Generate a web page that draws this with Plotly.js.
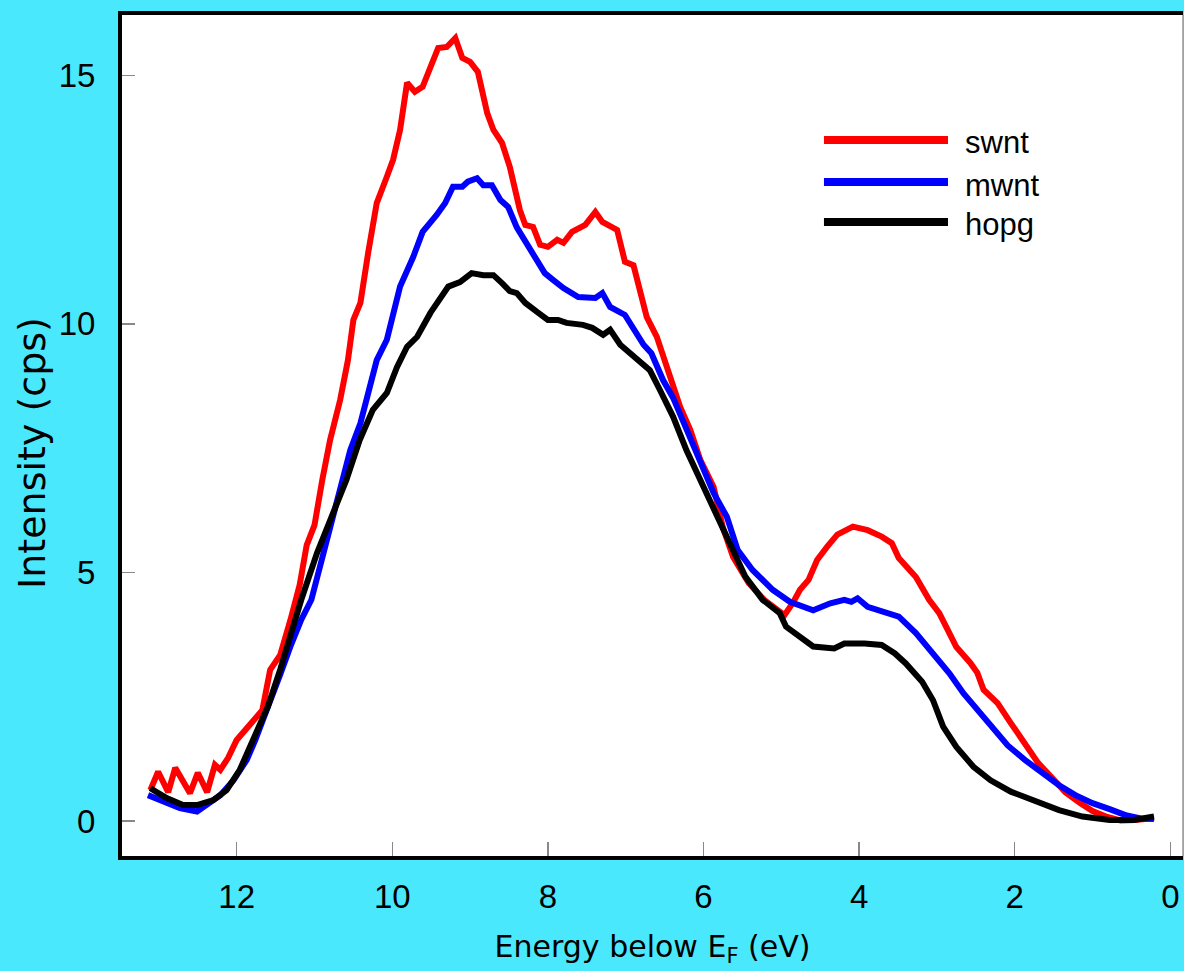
<!DOCTYPE html>
<html>
<head>
<meta charset="utf-8">
<script src="https://cdn.plot.ly/plotly-3.0.1.min.js"></script>
<style>
  html, body { margin: 0; padding: 0; background: #4ae8fd; }
  #chart { width: 1184px; height: 971px; }
</style>
</head>
<body>
<div id="chart"></div>
<script>
// ---- data ----
const seriesNames = ["swnt", "mwnt", "hopg"];
const seriesColors = ["#ff0000", "#0000ff", "#000000"];

const swntX = [13.11, 13.01, 12.88, 12.79, 12.60, 12.50, 12.38, 12.28, 12.21, 12.11, 12.00, 11.83, 11.67, 11.57, 11.44, 11.31, 11.19, 11.10, 11.00, 10.90, 10.80, 10.67, 10.57, 10.50, 10.41, 10.31, 10.20, 10.07, 9.99, 9.90, 9.81, 9.71, 9.61, 9.49, 9.41, 9.30, 9.19, 9.10, 9.00, 8.90, 8.78, 8.70, 8.59, 8.49, 8.36, 8.29, 8.19, 8.10, 8.00, 7.88, 7.80, 7.69, 7.52, 7.39, 7.30, 7.11, 7.01, 6.90, 6.73, 6.60, 6.47, 6.30, 6.17, 6.04, 5.87, 5.75, 5.62, 5.42, 5.22, 4.96, 4.85, 4.76, 4.65, 4.54, 4.41, 4.28, 4.08, 3.89, 3.71, 3.58, 3.49, 3.27, 3.10, 2.97, 2.84, 2.75, 2.57, 2.48, 2.40, 2.22, 2.05, 1.87, 1.70, 1.52, 1.35, 1.16, 1.00, 0.81, 0.64, 0.45, 0.30, 0.21];
const swntY = [0.62, 0.99, 0.58, 1.07, 0.56, 0.97, 0.58, 1.13, 1.03, 1.27, 1.63, 1.93, 2.23, 3.04, 3.34, 4.04, 4.75, 5.55, 5.95, 6.86, 7.66, 8.47, 9.27, 10.08, 10.42, 11.43, 12.43, 12.96, 13.30, 13.90, 14.85, 14.67, 14.77, 15.24, 15.55, 15.57, 15.75, 15.35, 15.27, 15.07, 14.24, 13.90, 13.64, 13.16, 12.29, 11.99, 11.95, 11.59, 11.55, 11.69, 11.63, 11.85, 11.99, 12.25, 12.05, 11.89, 11.25, 11.18, 10.14, 9.74, 9.13, 8.33, 7.87, 7.26, 6.72, 5.90, 5.31, 4.79, 4.45, 4.14, 4.39, 4.65, 4.85, 5.25, 5.52, 5.76, 5.92, 5.85, 5.72, 5.59, 5.29, 4.91, 4.45, 4.18, 3.78, 3.50, 3.18, 2.98, 2.64, 2.37, 1.97, 1.57, 1.17, 0.87, 0.58, 0.36, 0.20, 0.08, 0.01, 0.02, 0.04, 0.06];

const mwntX = [13.14, 12.90, 12.73, 12.51, 12.39, 12.21, 12.04, 11.87, 11.76, 11.60, 11.44, 11.30, 11.17, 11.04, 10.93, 10.80, 10.67, 10.54, 10.41, 10.31, 10.20, 10.07, 10.00, 9.90, 9.73, 9.61, 9.43, 9.32, 9.22, 9.10, 9.03, 8.91, 8.83, 8.72, 8.61, 8.51, 8.40, 8.23, 8.04, 7.93, 7.80, 7.61, 7.48, 7.39, 7.30, 7.20, 7.01, 6.90, 6.77, 6.67, 6.52, 6.39, 6.22, 6.04, 5.87, 5.70, 5.56, 5.37, 5.11, 4.89, 4.59, 4.37, 4.19, 4.10, 4.02, 3.89, 3.67, 3.49, 3.27, 3.05, 2.84, 2.66, 2.48, 2.27, 2.09, 1.87, 1.65, 1.43, 1.22, 1.00, 0.78, 0.56, 0.38, 0.21];
const mwntY = [0.52, 0.36, 0.26, 0.19, 0.32, 0.52, 0.82, 1.23, 1.63, 2.25, 2.95, 3.55, 4.05, 4.45, 5.11, 5.91, 6.72, 7.46, 8.00, 8.61, 9.27, 9.68, 10.14, 10.75, 11.35, 11.85, 12.19, 12.43, 12.76, 12.76, 12.86, 12.93, 12.79, 12.79, 12.49, 12.35, 11.94, 11.49, 11.02, 10.88, 10.72, 10.54, 10.54, 10.52, 10.62, 10.34, 10.18, 9.88, 9.58, 9.41, 8.87, 8.51, 7.87, 7.20, 6.60, 6.12, 5.45, 5.05, 4.65, 4.41, 4.24, 4.38, 4.45, 4.41, 4.48, 4.31, 4.21, 4.11, 3.78, 3.37, 2.97, 2.57, 2.23, 1.85, 1.52, 1.23, 0.96, 0.72, 0.52, 0.36, 0.24, 0.11, 0.05, 0.04];

const hopgX = [13.11, 12.90, 12.69, 12.51, 12.30, 12.13, 11.96, 11.79, 11.60, 11.44, 11.30, 11.17, 10.97, 10.76, 10.59, 10.42, 10.25, 10.07, 9.94, 9.81, 9.68, 9.51, 9.39, 9.28, 9.13, 8.98, 8.83, 8.70, 8.59, 8.49, 8.40, 8.29, 8.14, 8.00, 7.87, 7.76, 7.55, 7.43, 7.29, 7.20, 7.07, 6.90, 6.69, 6.56, 6.39, 6.22, 6.04, 5.87, 5.65, 5.46, 5.24, 5.02, 4.94, 4.76, 4.59, 4.32, 4.19, 3.93, 3.71, 3.54, 3.40, 3.19, 3.05, 2.92, 2.75, 2.53, 2.31, 2.05, 1.74, 1.43, 1.13, 0.78, 0.47, 0.21];
const hopgY = [0.66, 0.46, 0.32, 0.32, 0.42, 0.62, 1.03, 1.63, 2.30, 3.05, 3.80, 4.45, 5.38, 6.19, 6.86, 7.66, 8.27, 8.61, 9.13, 9.54, 9.74, 10.22, 10.48, 10.75, 10.84, 11.02, 10.98, 10.98, 10.82, 10.66, 10.62, 10.42, 10.24, 10.08, 10.08, 10.02, 9.98, 9.92, 9.78, 9.88, 9.58, 9.34, 9.07, 8.67, 8.13, 7.46, 6.86, 6.26, 5.59, 4.91, 4.45, 4.18, 3.91, 3.71, 3.51, 3.47, 3.57, 3.57, 3.54, 3.37, 3.17, 2.80, 2.43, 1.90, 1.49, 1.09, 0.82, 0.59, 0.39, 0.22, 0.09, 0.02, 0.02, 0.09];

const xTickVals = [12, 10, 8, 6, 4, 2, 0];
const xTickText = ["12", "10", "8", "6", "4", "2", "0"];
const yTickVals = [0, 5, 10, 15];
const yTickText = ["0", "5", "10", "15"];

const xTitle = "Energy below E<sub>F</sub> (eV)";
const yTitle = "Intensity (cps)";

// ---- build chart ----
const xs = [swntX, mwntX, hopgX];
const ys = [swntY, mwntY, hopgY];

const traces = seriesNames.map((n, i) => ({
  type: "scatter",
  mode: "lines",
  name: n,
  x: xs[i],
  y: ys[i],
  line: { color: seriesColors[i], width: 6 },
  showlegend: false,
  hoverinfo: "skip"
}));

// Custom legend (long line samples as in the reference)
const legX0 = 0.6616, legX1 = 0.7785, legTextX = 0.7926;
const legY = [0.8514, 0.8014, 0.7539];
const shapes = [];
const annotations = [];
seriesNames.forEach((n, i) => {
  shapes.push({
    type: "line", xref: "paper", yref: "paper",
    x0: legX0, x1: legX1, y0: legY[i], y1: legY[i],
    line: { color: seriesColors[i], width: 8 }
  });
  annotations.push({
    xref: "paper", yref: "paper", x: legTextX, y: legY[i],
    xanchor: "left", yanchor: "middle", yshift: -3,
    text: n, showarrow: false,
    font: { family: "Liberation Sans, Arial, sans-serif", size: 31, color: "#000" }
  });
});
// y-axis title, placed like the reference
annotations.push({
  xref: "paper", yref: "paper", x: -0.0848, y: 0.4792,
  xanchor: "center", yanchor: "middle", textangle: -90,
  text: yTitle, showarrow: false,
  font: { family: "DejaVu Sans, sans-serif", size: 38, color: "#000" }
});
// thin right frame line
shapes.push({
  type: "line", xref: "paper", yref: "paper",
  x0: 1, x1: 1, y0: 0, y1: 1,
  line: { color: "#999999", width: 1.5 }
});

const tickFont = { family: "Liberation Sans, Arial, sans-serif", size: 33, color: "#000" };

const layout = {
  width: 1184, height: 971,
  paper_bgcolor: "#4ae8fd",
  plot_bgcolor: "#ffffff",
  margin: { l: 122, r: 1, t: 15, b: 115, pad: 0 },
  showlegend: false,
  xaxis: {
    range: [13.474, -0.163],
    tickmode: "array", tickvals: xTickVals, ticktext: xTickText,
    ticks: "inside", ticklen: 14, tickwidth: 1.5, tickcolor: "#888",
    showline: true, linewidth: 4, linecolor: "#000", mirror: true,
    showgrid: false, zeroline: false,
    tickfont: tickFont, ticklabelstandoff: 8,
    automargin: false,
    title: { text: xTitle, standoff: 23,
      font: { family: "DejaVu Sans, sans-serif", size: 30, color: "#000" } }
  },
  yaxis: {
    range: [-0.704, 16.213],
    tickmode: "array", tickvals: yTickVals, ticktext: yTickText,
    ticks: "inside", ticklen: 13, tickwidth: 1.5, tickcolor: "#888",
    showline: true, linewidth: 4, linecolor: "#000", mirror: false,
    showgrid: false, zeroline: false,
    tickfont: tickFont, ticklabelstandoff: 16,
    automargin: false
  },
  shapes: shapes,
  annotations: annotations
};

Plotly.newPlot("chart", traces, layout, { displayModeBar: false, staticPlot: true });
</script>
</body>
</html>
